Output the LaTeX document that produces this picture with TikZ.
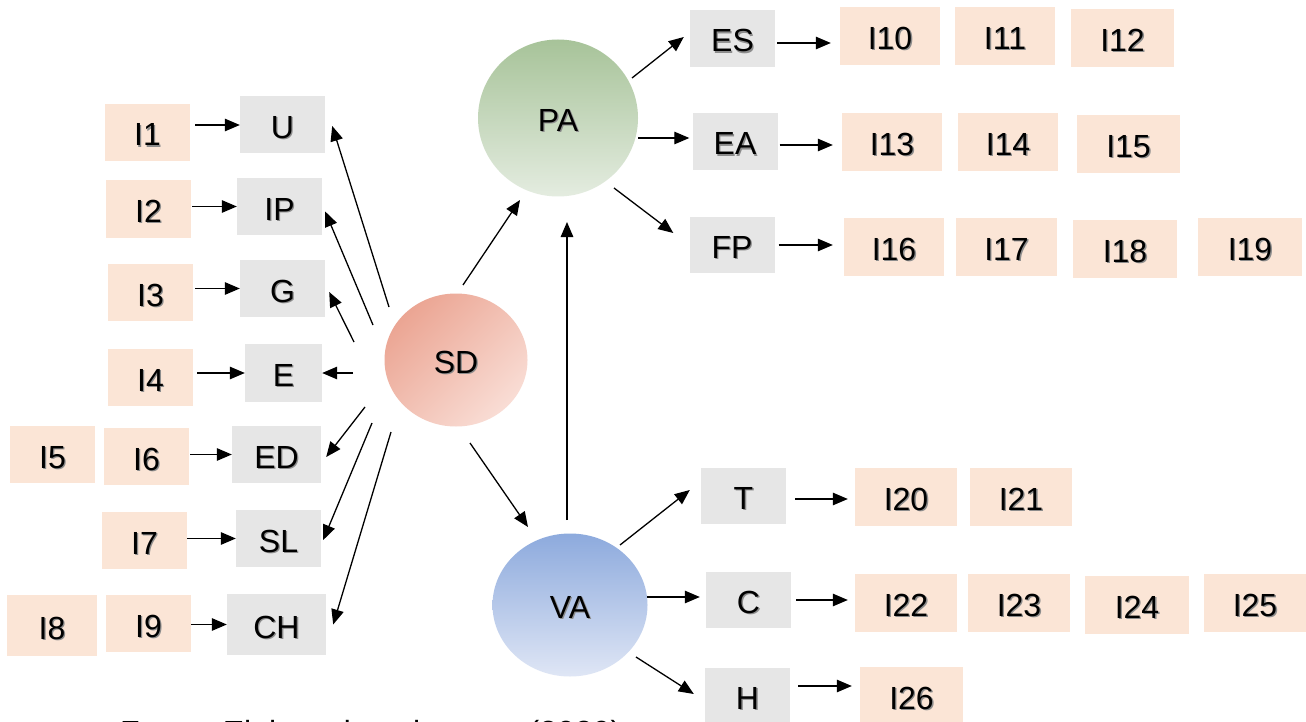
\documentclass[tikz,border=0pt]{standalone}
\usepackage{fontspec}
\setmainfont{Liberation Sans}
\usetikzlibrary{arrows.meta,shapes.geometric}
\definecolor{peach}{HTML}{FBE5D6}
\definecolor{lgray}{HTML}{E6E6E6}
\definecolor{sdA}{HTML}{EBA593}
\definecolor{sdB}{HTML}{F9DDD5}
\definecolor{paA}{HTML}{A7C399}
\definecolor{paB}{HTML}{E4ECE0}
\definecolor{vaA}{HTML}{8DAADD}
\definecolor{vaB}{HTML}{DFE6F5}
\newcommand\sh[1]{\makebox[0pt][l]{\hspace{1.3pt}\raisebox{-1.3pt}{\textcolor{black!45}{#1}}}#1}
\tikzset{
  lbl/.style={font=\fontsize{32}{38}\selectfont, inner sep=0pt, anchor=center, text=black, text height=27pt, text depth=0pt},
  gbox/.style={lbl, fill=lgray, minimum width=85pt, minimum height=57pt},
  ibox/.style={lbl, fill=peach, minimum width=85pt, minimum height=57pt},
  wbox/.style={ibox, minimum width=101pt, minimum height=58pt},
  circ/.style={lbl, ellipse},
  arr/.style={-{Triangle[length=15pt,width=12.5pt]}, line width=1.3pt},
}
\begin{document}
\begin{tikzpicture}[x=1pt,y=-1pt]
\clip (0,0) rectangle (1306,722);
\fill[white] (0,0) rectangle (1306,722);

% latent variables
\node[circ, minimum width=143pt, minimum height=133pt, top color=sdA, bottom color=sdB, shading angle=45] (SD) at (456,360) {\sh{SD}};
\node[circ, minimum width=160pt, minimum height=157pt, top color=paA, bottom color=paB] (PA) at (558,118) {\sh{PA}};
\node[circ, minimum width=155pt, minimum height=143pt, top color=vaA, bottom color=vaB] (VA) at (570,605) {\sh{VA}};

% left constructs
\node[gbox] (U) at (282.5,125) {\sh{U}};
\node[gbox] (IP) at (279.5,206.5) {\sh{IP}};
\node[gbox] (G) at (282.5,288.5) {\sh{G}};
\node[gbox, minimum width=77pt, minimum height=58pt] (E) at (283.5,373) {\sh{E}};
\node[gbox, minimum width=89pt] (ED) at (276.5,454.5) {\sh{ED}};
\node[gbox] (SL) at (278.5,538.5) {\sh{SL}};
\node[gbox, minimum width=99pt, minimum height=61pt] (CH) at (276.5,624.5) {\sh{CH}};

\node[ibox] (I1) at (147.5,132.5) {\sh{I1}};
\node[ibox] (I2) at (148.5,209) {\sh{I2}};
\node[ibox] (I3) at (150.5,292.5) {\sh{I3}};
\node[ibox] (I4) at (150.5,377.5) {\sh{I4}};
\node[ibox] (I5) at (52.5,454.5) {\sh{I5}};
\node[ibox] (I6) at (146.5,456.5) {\sh{I6}};
\node[ibox] (I7) at (144.5,540.5) {\sh{I7}};
\node[ibox, minimum width=90pt, minimum height=61pt] (I8) at (52,625.5) {\sh{I8}};
\node[ibox] (I9) at (148.5,623.5) {\sh{I9}};

% right constructs
\node[gbox] (ES) at (732.5,38.5) {\sh{ES}};
\node[gbox] (EA) at (735,141.5) {\sh{EA}};
\node[gbox, minimum height=55pt] (FP) at (732,245) {\sh{FP}};
\node[gbox, minimum height=56pt] (T) at (743.5,496) {\sh{T}};
\node[gbox, minimum height=56pt] (C) at (748.5,600) {\sh{C}};
\node[gbox, minimum height=56pt] (H) at (747.5,696) {\sh{H}};

\node[wbox, minimum width=100pt] (I10) at (890,36) {\sh{I10}};
\node[wbox, minimum width=100pt] (I11) at (1005,36) {\sh{I11}};
\node[wbox, minimum width=103pt] (I12) at (1122.5,38) {\sh{I12}};
\node[wbox, minimum width=100pt] (I13) at (892,142) {\sh{I13}};
\node[wbox, minimum width=100pt] (I14) at (1008,142) {\sh{I14}};
\node[wbox, minimum width=103pt] (I15) at (1128.5,144) {\sh{I15}};
\node[wbox, minimum width=100pt] (I16) at (894,247) {\sh{I16}};
\node[wbox] (I17) at (1006.5,247) {\sh{I17}};
\node[wbox, minimum width=104pt] (I18) at (1125,249) {\sh{I18}};
\node[wbox, minimum width=104pt] (I19) at (1250,247) {\sh{I19}};
\node[wbox, minimum width=102pt] (I20) at (906,497) {\sh{I20}};
\node[wbox, minimum width=102pt] (I21) at (1021,497) {\sh{I21}};
\node[wbox, minimum width=102pt] (I22) at (906,603) {\sh{I22}};
\node[wbox, minimum width=102pt] (I23) at (1019,603) {\sh{I23}};
\node[wbox, minimum width=104pt] (I24) at (1137,605) {\sh{I24}};
\node[wbox, minimum width=102pt] (I25) at (1255,603) {\sh{I25}};
\node[wbox, minimum width=103pt] (I26) at (911.5,696) {\sh{I26}};

% indicator arrows (left)
\draw[arr, shorten <=5pt] (I1.east |- U.west) -- (U.west);
\draw[arr, shorten <=1pt] (I2.east |- IP.west) -- (IP.west);
\draw[arr, shorten <=2pt] (I3.east |- G.west) -- (G.west);
\draw[arr, shorten <=4pt] (I4.east |- E.west) -- (E.west);
\draw[arr, shorten <=1pt] (I6.east |- ED.west) -- (ED.west);
\draw[arr] (I7.east |- SL.west) -- (SL.west);
\draw[arr] (I9.east |- CH.west) -- (CH.west);

% SD to left constructs
\coordinate (sU) at (389,307);
\coordinate (sIP) at (373,325);
\coordinate (sG) at (354,342);
\coordinate (sE) at (353,373);
\coordinate (sED) at (365,407);
\coordinate (sSL) at (372,423);
\coordinate (sCH) at (391,432);
\draw[arr] (sU) -- ([shift={(7,1)}]U.east);
\draw[arr] (sIP) -- ([shift={(3,5)}]IP.east);
\draw[arr] (sG) -- ([shift={(4,3.5)}]G.east);
\draw[arr] (sE) -- (E.east);
\draw[arr] (sED) -- ([shift={(5,2.5)}]ED.east);
\draw[arr] (sSL) -- ([shift={(2,1.5)}]SL.east);
\draw[arr] (sCH) -- ([shift={(7,0)}]CH.east);

% structural arrows
\coordinate (sPA) at (463,285);
\coordinate (tPA) at (520,200);
\coordinate (sVA) at (470,443);
\coordinate (tVA) at (528,527);
\coordinate (vUp) at (567,520);
\coordinate (tUp) at (567,222);
\draw[arr] (sPA) -- (tPA);
\draw[arr] (sVA) -- (tVA);
\draw[arr] (vUp) -- (tUp);

% PA to constructs
\coordinate (pES) at (632,78);
\coordinate (pEA) at (638,138);
\coordinate (pFP) at (614,188);
\draw[arr] (pES) -- ([shift={(-6,-1.5)}]ES.west);
\draw[arr, shorten >=3pt] (pEA) -- (pEA -| EA.west);
\draw[arr] (pFP) -- ([shift={(-16,-12)}]FP.west);

% VA to constructs
\coordinate (vT) at (620,545);
\coordinate (vC) at (647,597);
\coordinate (vH) at (636,657);
\draw[arr] (vT) -- ([shift={(-11,-6)}]T.west);
\draw[arr, shorten >=6pt] (vC) -- (vC -| C.west);
\draw[arr] (vH) -- ([shift={(-11,-2)}]H.west);

% construct to indicator arrows (right)
\draw[arr, shorten <=2pt, shorten >=9pt] ([yshift=-4.5]ES.east) -- ([yshift=-4.5]ES.east -| I10.west);
\draw[arr, shorten <=2pt, shorten >=9pt] ([yshift=-3.5]EA.east) -- ([yshift=-3.5]EA.east -| I13.west);
\draw[arr, shorten <=4pt, shorten >=11pt] (FP.east) -- (FP.east -| I16.west);
\draw[arr, shorten <=9pt, shorten >=7pt] ([yshift=-3]T.east) -- ([yshift=-3]T.east -| I20.west);
\draw[arr, shorten <=5pt, shorten >=7pt] (C.east) -- (C.east -| I22.west);
\draw[arr, shorten <=8pt, shorten >=8pt] ([yshift=10]H.east) -- ([yshift=10]H.east -| I26.west);

% caption (cut off by the frame, as in the reference)
\node[font=\fontsize{32}{38}\selectfont, anchor=base west, inner sep=0pt] (cap) at (120,743) {Fonte: Elaborado pelo autor (2020)};
\end{tikzpicture}
\end{document}
